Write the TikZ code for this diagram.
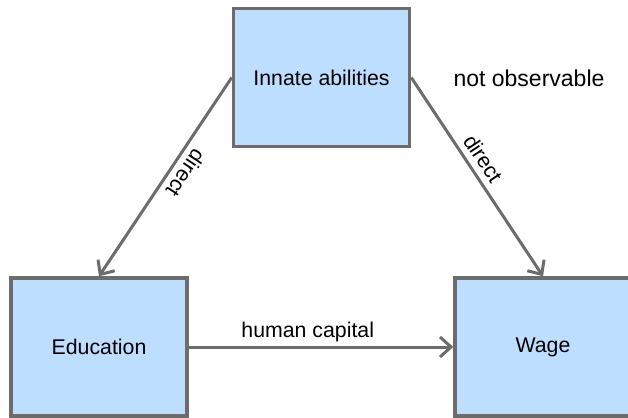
\documentclass[tikz,border=0pt]{standalone}
\usepackage{fontspec}
\setmainfont{Liberation Sans}
\usetikzlibrary{arrows.meta}
\definecolor{boxfill}{RGB}{189,222,255}
\definecolor{edgegray}{RGB}{108,108,108}
\begin{document}
\begin{tikzpicture}[x=1pt,y=-1pt,
  box/.style={draw=edgegray, line width=3.5pt, fill=boxfill, minimum width=176pt, minimum height=138pt, inner sep=0pt, font=\fontsize{21.3}{25}\selectfont},
  conn/.style={draw=edgegray, line width=3pt, -{Straight Barb[length=11pt,width=20pt]}},
  lbl/.style={font=\fontsize{21.3}{25}\selectfont, text=black}]
\useasboundingbox (0,0) rectangle (628,417);
\clip (0,0) rectangle (628,417);
\node[box] (inn) at (321.5,77.5) {Innate abilities};
\node[box] (edu) at (99,347) {Education};
\node[box] (wag) at (543,347) {Wage};
\node[lbl, font=\fontsize{23}{27}\selectfont] (obs) at (529,78) {not observable};
\draw[conn] (inn.west) -- node[lbl, pos=0.44, sloped, allow upside down, above=2.5pt] (dl) {direct} (edu.north);
\draw[conn] (inn.east) -- node[lbl, pos=0.45, sloped, above=2.5pt] (dr) {direct} (wag.north);
\draw[conn] (edu.east) -- node[lbl, pos=0.45, above] (hc) {human capital} (wag.west);
\end{tikzpicture}
\end{document}
